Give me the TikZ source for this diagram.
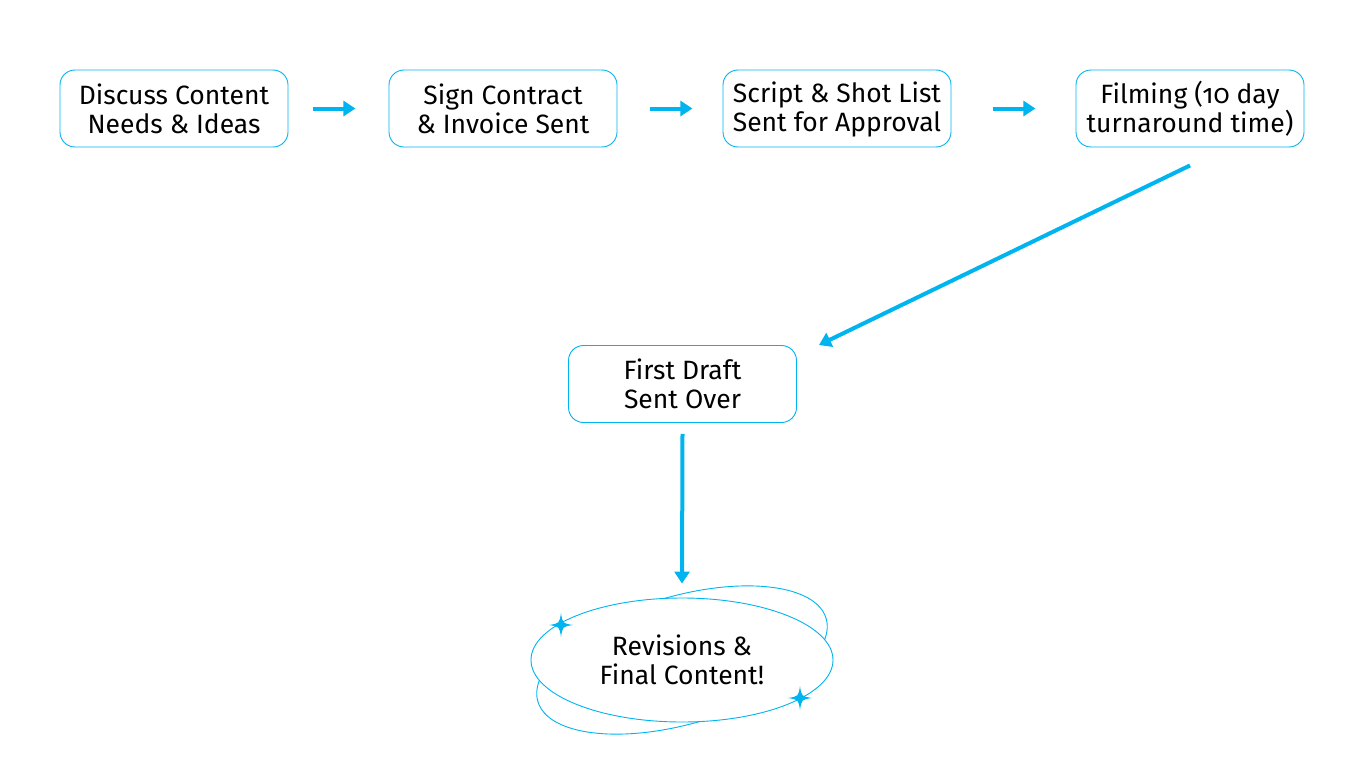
\documentclass[tikz,border=0pt]{standalone}
\usepackage{fontspec}
\setmainfont{Fira Sans}[Numbers=OldStyle]
\usetikzlibrary{arrows.meta,shapes.geometric}
\definecolor{cy}{RGB}{0,180,240}
\newcommand{\st}{\rule[-3pt]{0pt}{26pt}}
\tikzset{
  stepbox/.style={draw=cy, line width=0.9pt, rounded corners=15pt, minimum width=228pt, minimum height=77pt, align=center, font=\fontsize{26.5}{29}\selectfont, fill=white, inner sep=0pt},
  flow/.style={draw=cy, line width=4pt, -{Triangle[width=15pt,length=12pt]}}
}
\newcommand{\sparkle}[2]{\fill[cy] (#1,#2) ++(0,-12) .. controls ++(1.6,10.4) .. ++(12,12) .. controls ++(-10.4,1.6) .. ++(-12,12) .. controls ++(-1.6,-10.4) .. ++(-12,-12) .. controls ++(10.4,-1.6) .. ++(12,-12) -- cycle;}
\begin{document}
\begin{tikzpicture}[x=1pt,y=-1pt]
\useasboundingbox (0,0) rectangle (1366,768);
\node[stepbox] (a) at (174,108.5) {\st Discuss Content\\\st Needs \& Ideas};
\node[stepbox] (b) at (503,108.5) {\st Sign Contract\\\st\& Invoice Sent};
\node[stepbox] (c) at (837,108.5) {\st Script \& Shot List\\\st Sent for Approval};
\node[stepbox] (d) at (1190,108.5) {\st Filming (10 day\\\st turnaround time)};
\node[stepbox] (e) at (682.5,384) {\st First Draft\\\st Sent Over};
% final ellipse
\coordinate (fc) at (682,660);
\draw[cy, line width=0.9pt, rotate around={16:(fc)}] (fc) ellipse [x radius=150, y radius=64];
\node[ellipse, draw=cy, line width=0.9pt, fill=white, minimum width=302pt, minimum height=124pt, align=center, font=\fontsize{26.5}{29}\selectfont, inner sep=0pt] (f) at (fc) {\st Revisions \&\\\st Final Content!};
\sparkle{561}{625}
\sparkle{800}{698}
% connectors
\draw[flow] ([xshift=25pt]a.east) -- ([xshift=67pt]a.east);
\draw[flow] ([xshift=33pt]b.east) -- ([xshift=75pt]b.east);
\draw[flow] ([xshift=42pt]c.east) -- ([xshift=84pt]c.east);
\draw[flow] ([yshift=-18pt]d.south) -- ([xshift=22pt,yshift=0pt]e.north east);
\draw[flow] ([yshift=-11pt]e.south) -- ([yshift=14pt]f.north);
\end{tikzpicture}
\end{document}
